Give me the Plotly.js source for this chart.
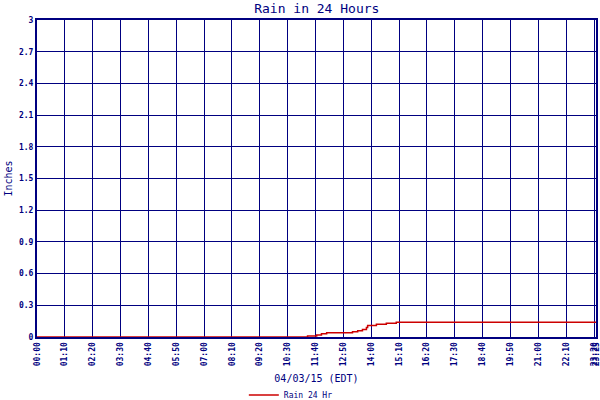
<!DOCTYPE html>
<html>
<head>
<meta charset="utf-8">
<script src="https://cdn.plot.ly/plotly-3.0.1.min.js"></script>
<style>html,body{margin:0;padding:0;background:#fff;}#chart{width:600px;height:400px;}</style>
</head>
<body>
<div id="chart"></div>
<script>
// Rain accumulation, minutes after midnight (04/03/15 EDT)
const rainMinutes = [0, 680, 703, 715, 728, 793, 806, 818, 828, 831, 853, 878, 903, 1405];
const rainInches  = [0, 0.01, 0.02, 0.03, 0.04, 0.05, 0.06, 0.07, 0.09, 0.11, 0.12, 0.13, 0.14, 0.14];

const xTickMinutes = [0,70,140,210,280,350,420,490,560,630,700,770,840,910,980,1050,1120,1190,1260,1330,1400,1405];
const xTickLabels  = ["00:00","01:10","02:20","03:30","04:40","05:50","07:00","08:10","09:20","10:30","11:40","12:50","14:00","15:10","16:20","17:30","18:40","19:50","21:00","22:10","23:20","23:25"];
const yTickValues  = [0,0.3,0.6,0.9,1.2,1.5,1.8,2.1,2.4,2.7,3];
const yTickLabels  = ["0","0.3","0.6","0.9","1.2","1.5","1.8","2.1","2.4","2.7","3"];

const navy = "#000080";
const mono = "DejaVu Sans Mono, monospace";

const trace = {
  x: rainMinutes,
  y: rainInches,
  type: "scatter",
  mode: "lines",
  line: {color: "#cc0000", width: 1.5, shape: "hv"},
  name: "Rain 24 Hr"
};

const layout = {
  width: 600, height: 400,
  margin: {l: 37, r: 4, t: 20, b: 63, autoexpand: false},
  paper_bgcolor: "#ffffff",
  plot_bgcolor: "#ffffff",
  title: {text: "Rain in 24 Hours", font: {family: mono, size: 13, color: navy}, x: 0.528, xanchor: "center", y: 0.98, yanchor: "middle"},
  xaxis: {
    range: [0, 1405],
    automargin: false,
    tickmode: "array", tickvals: xTickMinutes, ticktext: xTickLabels,
    tickangle: -90,
    ticklabeloverflow: "allow",
    tickfont: {family: mono, size: 8, color: navy, weight: "bold"},
    showgrid: true, gridcolor: navy, gridwidth: 1,
    showline: true, linecolor: navy, linewidth: 2, mirror: true,
    zeroline: false, ticks: "",
    title: {text: "04/03/15 (EDT)", font: {family: mono, size: 10, color: navy}, standoff: 10}
  },
  yaxis: {
    range: [0, 3],
    automargin: false,
    tickmode: "array", tickvals: yTickValues, ticktext: yTickLabels,
    tickfont: {family: mono, size: 8, color: navy, weight: "bold"},
    showgrid: true, gridcolor: navy, gridwidth: 1,
    showline: true, linecolor: navy, linewidth: 2, mirror: true,
    zeroline: false, ticks: "",
    title: {text: "Inches", font: {family: mono, size: 10, color: navy}, standoff: 4}
  },
  showlegend: true,
  legend: {
    orientation: "h",
    x: 0.37, xanchor: "left",
    y: -0.183, yanchor: "middle",
    font: {family: mono, size: 8, color: navy},
    bgcolor: "rgba(0,0,0,0)"
  }
};

Plotly.newPlot("chart", [trace], layout, {displayModeBar: false, staticPlot: true});
</script>
</body>
</html>
